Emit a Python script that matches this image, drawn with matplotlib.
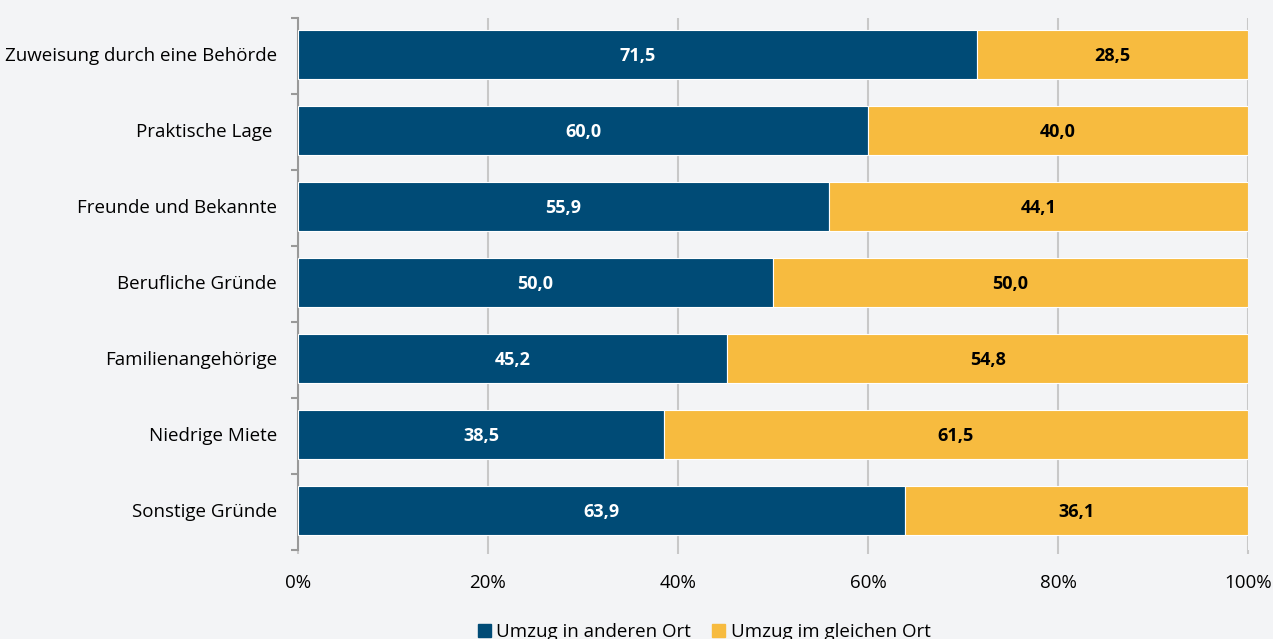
import matplotlib.pyplot as plt
import numpy as np
from matplotlib.patches import Patch

categories = ["Zuweisung durch eine Behörde", "Praktische Lage ", "Freunde und Bekannte",
              "Berufliche Gründe", "Familienangehörige", "Niedrige Miete", "Sonstige Gründe"]
anderer_ort = [71.5, 60.0, 55.9, 50.0, 45.2, 38.5, 63.9]
gleicher_ort = [28.5, 40.0, 44.1, 50.0, 54.8, 61.5, 36.1]
series_names = ["Umzug in anderen Ort", "Umzug im gleichen Ort"]

blue = "#004b76"
yellow = "#f7bb3f"
bg = "#f3f4f6"

plt.rcParams['font.family'] = ['Open Sans', 'DejaVu Sans']

fig = plt.figure(figsize=(12.73, 6.39), dpi=100, facecolor=bg)
ax = fig.add_axes([298/1273, 1 - 550/639, 950/1273, 532/639])
ax.set_facecolor(bg)

y = np.arange(len(categories))
h = 0.65
ax.barh(y, anderer_ort, height=h, color=blue, edgecolor="white", linewidth=0.8, zorder=3)
ax.barh(y, gleicher_ort, left=anderer_ort, height=h, color=yellow, edgecolor="white", linewidth=0.8, zorder=3)

# value labels inside each segment
for i in range(len(categories)):
    ax.text(anderer_ort[i] / 2, y[i], f"{anderer_ort[i]:.1f}".replace(".", ","),
            ha="center", va="center_baseline", color="white", fontsize=13, fontweight="bold", zorder=4)
    ax.text(anderer_ort[i] + gleicher_ort[i] / 2, y[i], f"{gleicher_ort[i]:.1f}".replace(".", ","),
            ha="center", va="center_baseline", color="black", fontsize=13, fontweight="bold", zorder=4)

ax.set_xlim(0, 100)
ax.set_ylim(len(categories) - 1 + 0.44, -0.48)
ax.set_yticks(y)
ax.set_yticklabels(categories, fontsize=13.5)
ax.set_yticks(np.arange(-0.5, len(categories) - 0.4, 1.0) + 0.02, minor=True)
ax.tick_params(axis="y", which="major", length=0, pad=15)
ax.tick_params(axis="y", which="minor", length=5, color="#999999", width=1.5)

ax.set_xticks([0, 20, 40, 60, 80, 100])
ax.set_xticklabels(["0%", "20%", "40%", "60%", "80%", "100%"], fontsize=13.5)
ax.tick_params(axis="x", length=3, width=1.5, color="#c8c8c8", pad=14)
ax.grid(axis="x", color="#c8c8c8", linewidth=1.5, zorder=1)

for s in ["top", "right", "bottom"]:
    ax.spines[s].set_visible(False)
ax.spines["left"].set_color("#999999")
ax.spines["left"].set_linewidth(1.5)

handles = [Patch(color=blue), Patch(color=yellow)]
fig.legend(handles, series_names, loc="center", bbox_to_anchor=(0.553, 1 - 632/639),
           ncol=2, frameon=False, fontsize=13.5, handlelength=0.7, handleheight=0.7,
           handletextpad=0.3, columnspacing=1.1)

fig.savefig("out.png", dpi=100, facecolor=bg)
